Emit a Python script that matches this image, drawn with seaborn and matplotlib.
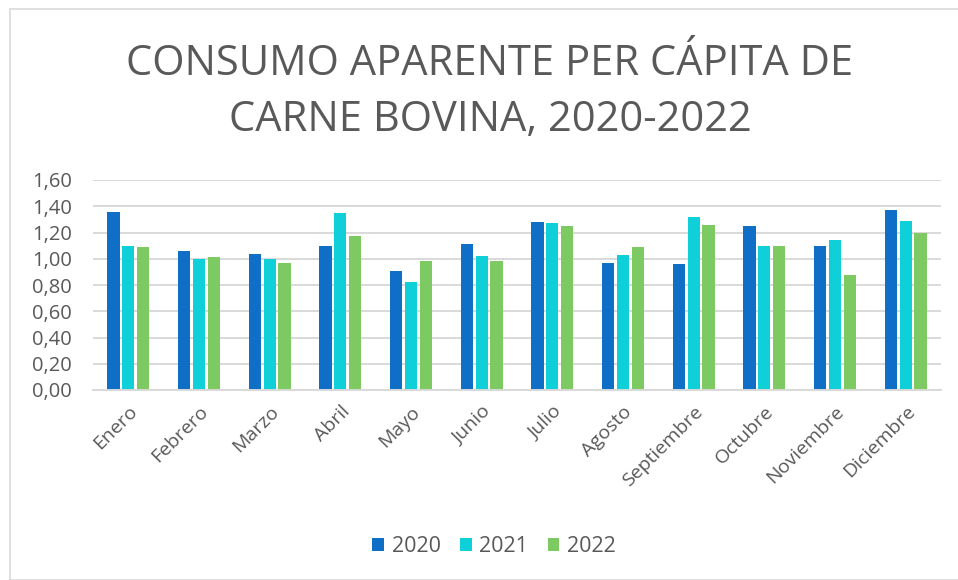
import matplotlib
matplotlib.use("Agg")
import matplotlib.pyplot as plt
import seaborn as sns
import pandas as pd
from matplotlib.patches import Rectangle, Patch

meses = ["Enero", "Febrero", "Marzo", "Abril", "Mayo", "Junio", "Julio",
         "Agosto", "Septiembre", "Octubre", "Noviembre", "Diciembre"]
v2020 = [1.36, 1.06, 1.04, 1.10, 0.91, 1.11, 1.28, 0.97, 0.96, 1.25, 1.10, 1.37]
v2021 = [1.10, 1.00, 1.00, 1.35, 0.82, 1.02, 1.27, 1.03, 1.32, 1.10, 1.14, 1.29]
v2022 = [1.09, 1.01, 0.97, 1.17, 0.98, 0.98, 1.25, 1.09, 1.26, 1.10, 0.88, 1.20]
anios = ["2020", "2021", "2022"]
colores = ["#0F6FC6", "#0FCFD9", "#7DCA63"]
yticks = [0.0, 0.2, 0.4, 0.6, 0.8, 1.0, 1.2, 1.4, 1.6]
titulo = "CONSUMO APARENTE PER CÁPITA DE\nCARNE BOVINA, 2020-2022"

rows = []
for a, vals in zip(anios, [v2020, v2021, v2022]):
    for m, v in zip(meses, vals):
        rows.append({"Mes": m, "Año": a, "Valor": v})
df = pd.DataFrame(rows)

sns.set_theme(style="white")
plt.rcParams["font.family"] = ["Open Sans", "DejaVu Sans"]
txt = "#595959"

fig = plt.figure(figsize=(9.58, 5.8), dpi=100)
W, H = 958, 580
ax = fig.add_axes([93 / W, (H - 390) / H, (941 - 93) / W, (390 - 180) / H])

sns.barplot(data=df, x="Mes", y="Valor", hue="Año", palette=colores,
            width=0.63, gap=0.17, ax=ax, legend=False, saturation=1,
            edgecolor="none")

ax.set_ylim(0, 1.6)
ax.set_xlim(-0.5, 11.5)
ax.set_yticks(yticks)
ax.set_yticklabels([f"{t:.2f}".replace(".", ",") for t in yticks],
                   fontsize=14.5, color=txt)
ax.yaxis.grid(True, color="#D9D9D9", linewidth=1.4)
ax.set_axisbelow(True)
for s in ["left", "right", "top"]:
    ax.spines[s].set_visible(False)
ax.spines["bottom"].set_color("#D9D9D9")
ax.spines["bottom"].set_linewidth(1.4)
ax.tick_params(axis="y", length=0, pad=15)
ax.set_xlabel("")
ax.set_ylabel("")
ax.set_xticks(range(len(meses)))
ax.set_xticklabels(meses, rotation=45, ha="right", rotation_mode="anchor",
                   fontsize=14, color=txt)
ax.tick_params(axis="x", length=0, pad=9)

fig.text(490 / W, 1 - 92 / H, titulo, ha="center", va="center",
         fontsize=30, color=txt, linespacing=1.45)

handles = [Patch(facecolor=c, edgecolor="none") for c in colores]
fig.legend(handles, anios, loc="center", bbox_to_anchor=(494 / W, 1 - 547 / H),
           ncol=3, frameon=False, fontsize=15.5, labelcolor=txt,
           handlelength=0.55, handleheight=0.55, handletextpad=0.35,
           columnspacing=0.9)

fig.patches.append(Rectangle((10 / W, 0), 1.0, 1 - 9 / H,
                             transform=fig.transFigure, fill=False,
                             edgecolor="#D9D9D9", linewidth=1.2))

fig.savefig("out.png", dpi=100)
